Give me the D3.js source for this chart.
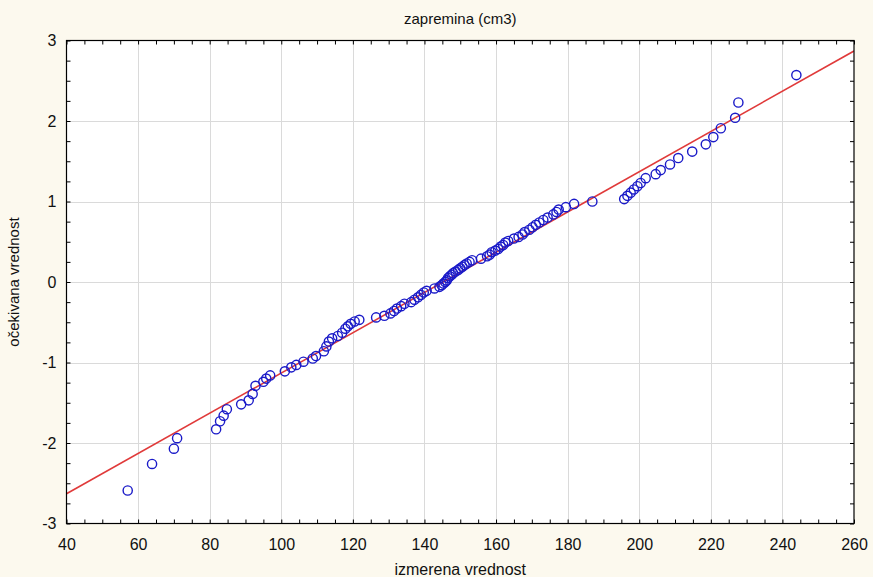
<!DOCTYPE html>
<html><head><meta charset="utf-8">
<script src="https://cdn.jsdelivr.net/npm/d3@7/dist/d3.min.js"></script>
<style>
html,body{margin:0;padding:0;background:#fcf9ee;}
svg{display:block;font-family:"Liberation Sans",Arial,sans-serif;}
</style></head>
<body>
<script>
const title = "zapremina (cm3)";
const xTitle = "izmerena vrednost";
const yTitle = "očekivana vrednost";
const xTicks = [40,60,80,100,120,140,160,180,200,220,240,260];
const yTicks = [-3,-2,-1,0,1,2,3];
// measured value (x) and expected normal value (y)
const measured = [57.1,63.9,70.0,70.9,81.8,82.9,83.9,84.8,88.8,90.9,92.0,92.8,95.0,95.8,96.9,101.0,102.8,104.2,106.2,108.8,109.7,111.9,112.6,113.3,114.2,115.8,117.0,117.9,118.6,119.4,120.5,121.8,126.5,128.8,130.5,131.5,132.3,133.5,134.4,136.3,137.2,138.2,139.0,139.8,140.6,142.8,144.2,144.8,145.3,145.8,146.2,146.6,147.1,147.6,148.0,148.7,149.4,150.0,150.6,151.2,151.8,152.6,153.3,155.8,157.5,158.2,158.8,159.8,160.6,161.3,162.0,162.6,163.4,165.0,166.3,167.4,168.0,169.3,170.2,171.1,172.1,173.2,174.4,176.0,176.9,177.5,179.5,181.8,186.9,195.8,196.7,197.6,198.5,199.5,200.4,201.8,204.6,206.0,208.6,210.9,214.8,218.6,220.7,222.8,226.8,227.7,243.9];
const expected = [-2.59,-2.26,-2.07,-1.94,-1.83,-1.73,-1.66,-1.58,-1.52,-1.47,-1.39,-1.29,-1.24,-1.20,-1.16,-1.11,-1.06,-1.03,-0.99,-0.95,-0.92,-0.86,-0.80,-0.74,-0.70,-0.67,-0.63,-0.58,-0.55,-0.52,-0.49,-0.47,-0.44,-0.42,-0.39,-0.36,-0.33,-0.30,-0.27,-0.25,-0.22,-0.19,-0.16,-0.13,-0.11,-0.08,-0.06,-0.04,-0.02,0.00,0.02,0.05,0.07,0.09,0.11,0.13,0.15,0.17,0.19,0.21,0.23,0.25,0.27,0.29,0.32,0.34,0.37,0.39,0.41,0.44,0.46,0.49,0.51,0.54,0.56,0.59,0.62,0.65,0.68,0.71,0.74,0.77,0.80,0.84,0.87,0.90,0.93,0.97,1.00,1.03,1.07,1.11,1.15,1.19,1.23,1.29,1.34,1.39,1.46,1.54,1.62,1.71,1.80,1.91,2.04,2.23,2.57];
const lineMean = 145.2, lineSD = 40;

const W = 873, H = 577;
const L = 66.5, R = 854, T = 40.5, B = 523.5;
const svg = d3.select("body").append("svg").attr("width", W).attr("height", H);
svg.append("rect").attr("width", W).attr("height", H).attr("fill", "#fcf9ee");

const x = d3.scaleLinear().domain([40,260]).range([L,R]);
const y = d3.scaleLinear().domain([-3,3]).range([B,T]);

svg.append("rect").attr("x", L).attr("y", T).attr("width", R-L).attr("height", B-T).attr("fill", "#fff");

// grid
const g = svg.append("g");
g.selectAll("line.vx").data(xTicks.slice(1,-1)).join("line")
  .attr("x1", d=>Math.round(x(d))+0.5).attr("x2", d=>Math.round(x(d))+0.5)
  .attr("y1", T).attr("y2", B).attr("stroke", "#dadada").attr("stroke-width", 1);
g.selectAll("line.hy").data(yTicks.slice(1,-1)).join("line")
  .attr("y1", d=>Math.round(y(d))+0.5).attr("y2", d=>Math.round(y(d))+0.5)
  .attr("x1", L).attr("x2", R).attr("stroke", "#dadada").attr("stroke-width", 1);

// axes with inward ticks
const xMinor = d3.range(40, 260.01, 5);
const yMinor = d3.range(-3, 3.001, 0.25);
svg.append("g").attr("transform", `translate(0,${B})`)
  .call(d3.axisBottom(x).tickValues(xMinor).tickSize(-4).tickFormat(""))
  .call(a=>a.select(".domain").remove()).selectAll("line").attr("stroke","#000");
svg.append("g").attr("transform", `translate(0,${T})`)
  .call(d3.axisTop(x).tickValues(xMinor).tickSize(-4).tickFormat(""))
  .call(a=>a.select(".domain").remove()).selectAll("line").attr("stroke","#000");
svg.append("g").attr("transform", `translate(${L},0)`)
  .call(d3.axisLeft(y).tickValues(yMinor).tickSize(-4).tickFormat(""))
  .call(a=>a.select(".domain").remove()).selectAll("line").attr("stroke","#000");
svg.append("g").attr("transform", `translate(${R},0)`)
  .call(d3.axisRight(y).tickValues(yMinor).tickSize(-4).tickFormat(""))
  .call(a=>a.select(".domain").remove()).selectAll("line").attr("stroke","#000");

// tick labels (hyphen minus as in the original)
const fmt = d => String(d);
svg.append("g").attr("transform", `translate(0,${B})`)
  .call(d3.axisBottom(x).tickValues(xTicks).tickSize(0).tickPadding(15).tickFormat(fmt))
  .call(a=>a.select(".domain").remove())
  .selectAll("text").attr("font-size", 16).attr("fill", "#111").attr("font-family","Liberation Sans, Arial, sans-serif");
svg.append("g").attr("transform", `translate(${L},0)`)
  .call(d3.axisLeft(y).tickValues(yTicks).tickSize(0).tickPadding(10).tickFormat(fmt))
  .call(a=>a.select(".domain").remove())
  .selectAll("text").attr("font-size", 16).attr("fill", "#111").attr("font-family","Liberation Sans, Arial, sans-serif");

// fitted line
const clipId = "plotclip";
svg.append("clipPath").attr("id", clipId).append("rect").attr("x", L).attr("y", T).attr("width", R-L).attr("height", B-T);
svg.append("line").attr("clip-path", `url(#${clipId})`)
  .attr("x1", x(40)).attr("y1", y((40-lineMean)/lineSD))
  .attr("x2", x(260)).attr("y2", y((260-lineMean)/lineSD))
  .attr("stroke", "#e03a3a").attr("stroke-width", 1.6);

// points
const pts = measured.map((v,i)=>({x:v, y:expected[i]}));
svg.append("g").selectAll("circle").data(pts).join("circle")
  .attr("cx", d=>x(d.x)).attr("cy", d=>y(d.y)).attr("r", 4.6)
  .attr("fill", "none").attr("stroke", "#1a1ac8").attr("stroke-width", 1.4);

// frame
svg.append("rect").attr("x", L).attr("y", T).attr("width", R-L).attr("height", B-T)
  .attr("fill", "none").attr("stroke", "#000").attr("stroke-width", 1.2);

// titles
svg.append("text").attr("x", (L+R)/2).attr("y", 24).attr("text-anchor","middle")
  .attr("font-size", 15).attr("fill","#111").text(title);
svg.append("text").attr("x", (L+R)/2).attr("y", 575).attr("text-anchor","middle")
  .attr("font-size", 16).attr("fill","#111").text(xTitle);
svg.append("text").attr("transform", `translate(19,${(T+B)/2}) rotate(-90)`).attr("text-anchor","middle")
  .attr("font-size", 15).attr("fill","#111").text(yTitle);
</script>
</body></html>
